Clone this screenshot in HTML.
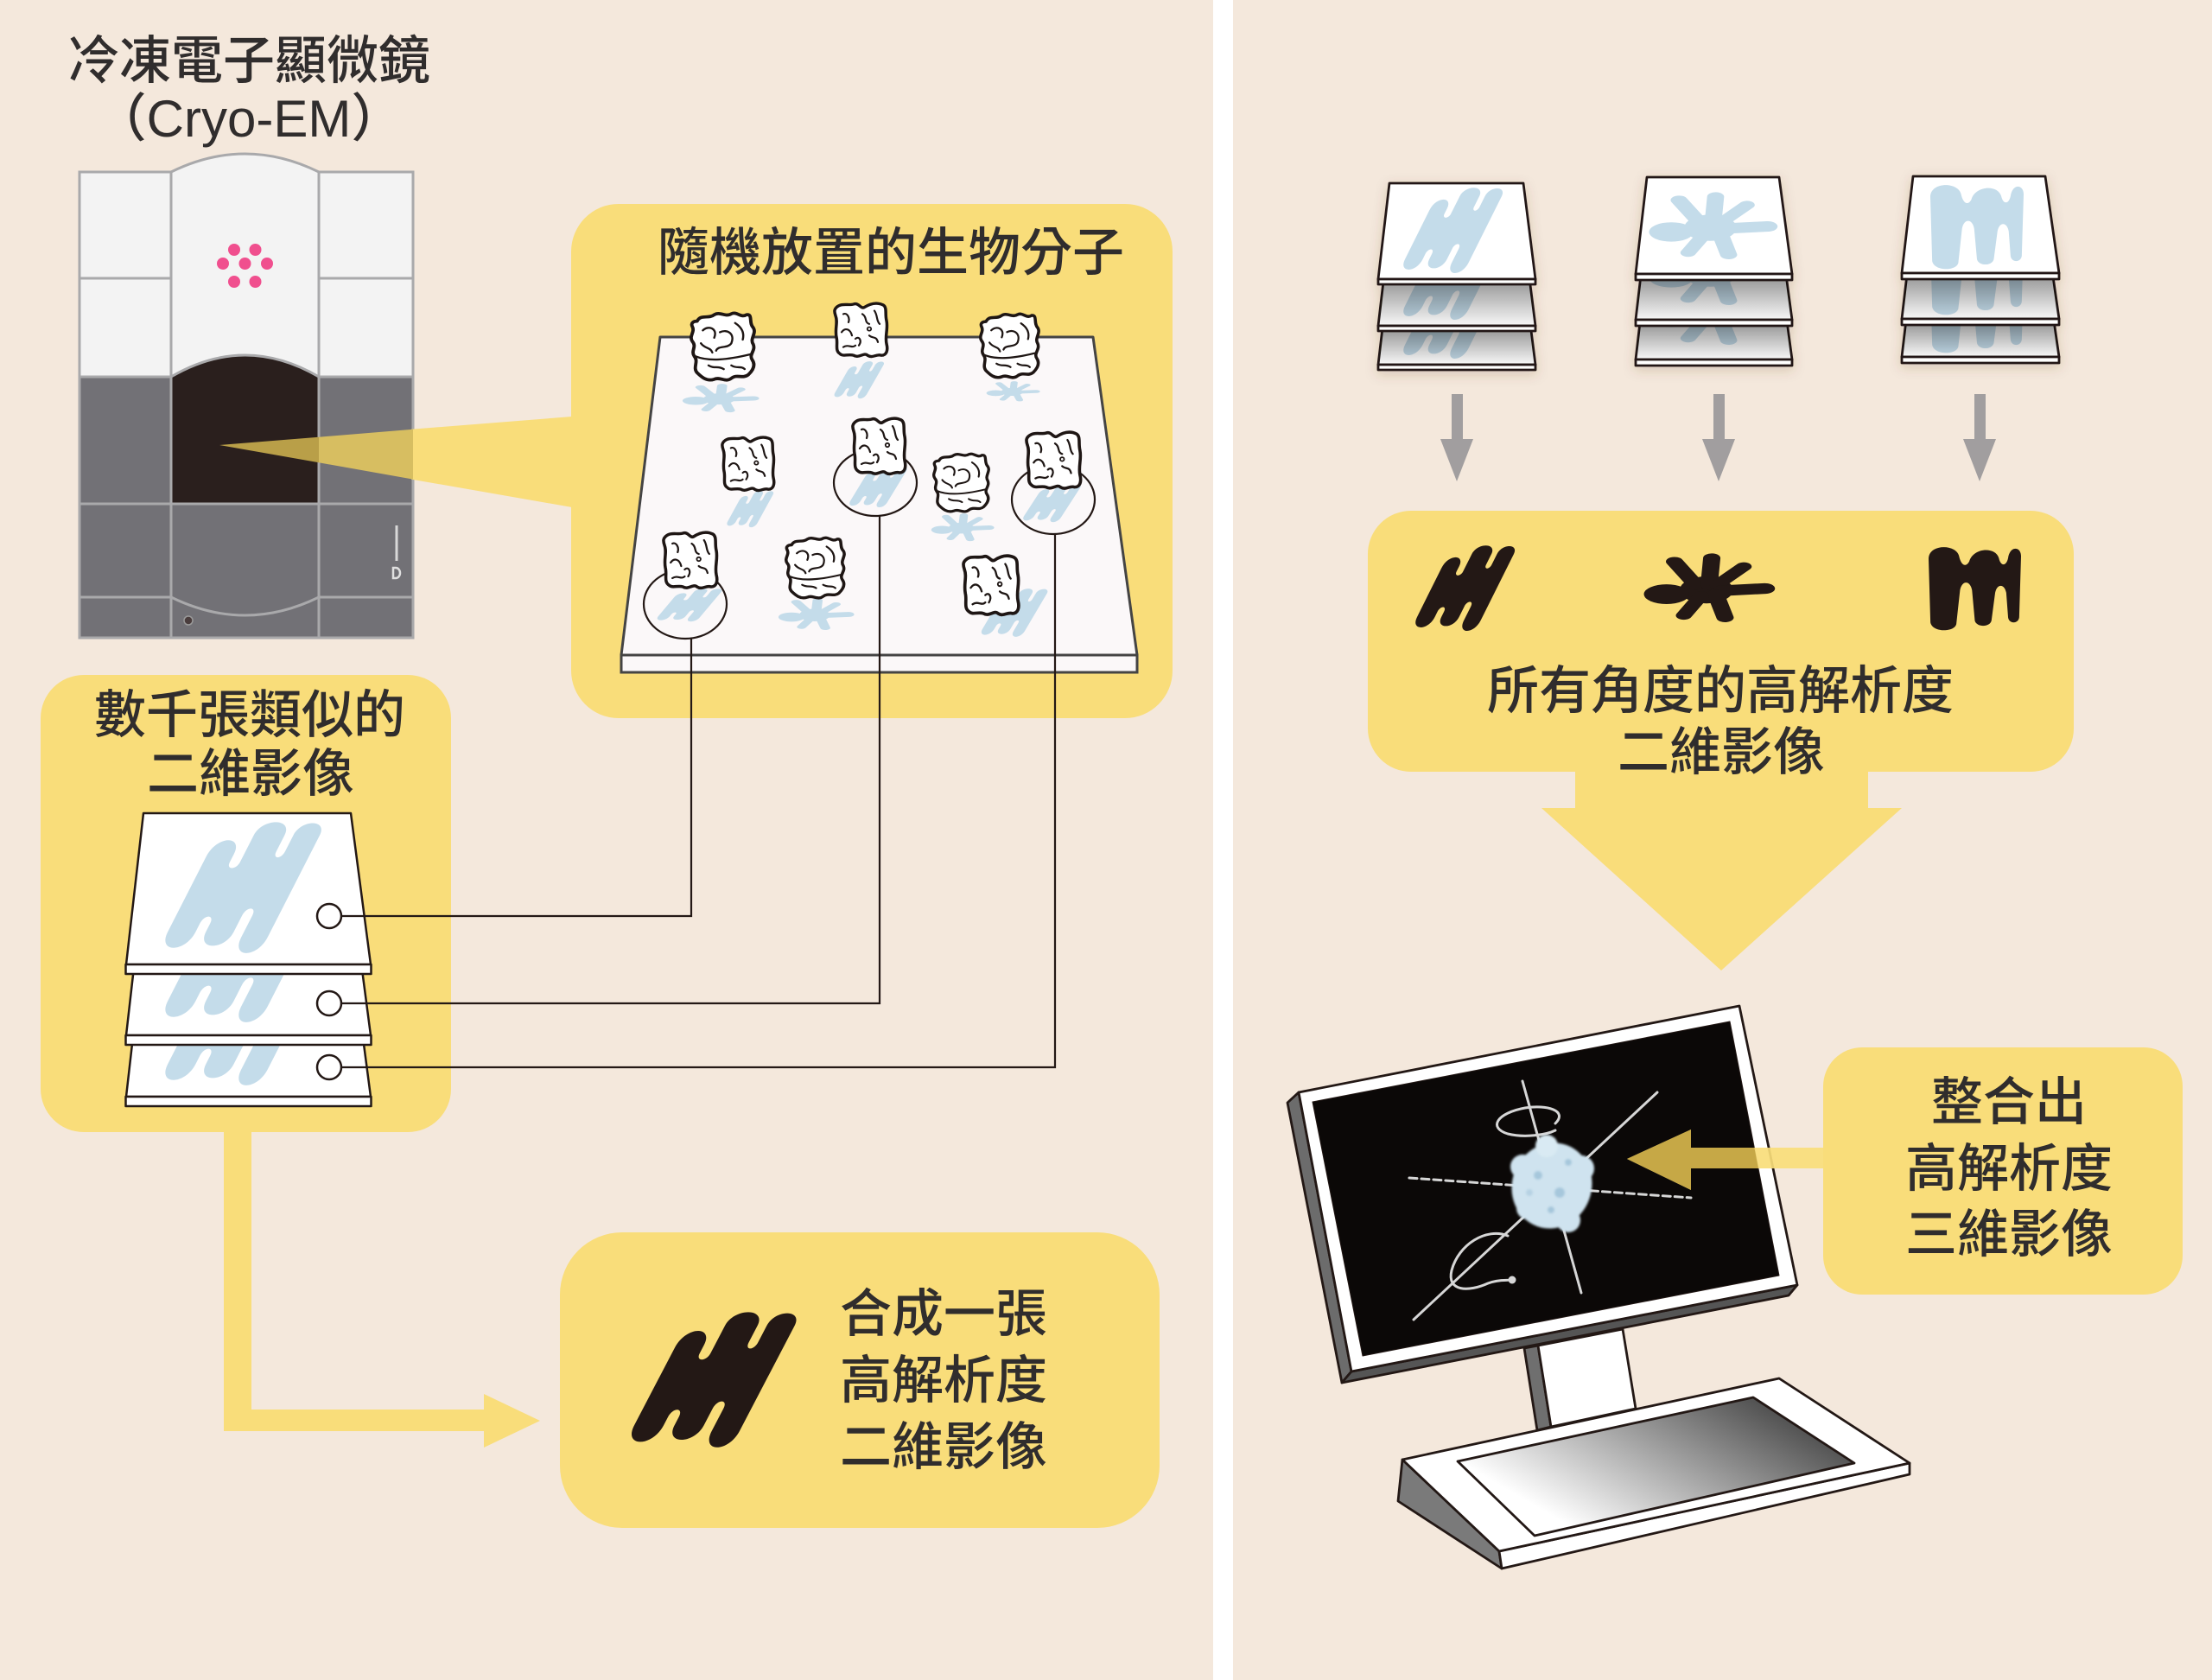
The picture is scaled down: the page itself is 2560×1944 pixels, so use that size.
<!DOCTYPE html>
<html>
<head>
<meta charset="utf-8">
<style>
html,body{margin:0;padding:0;background:#f4e8dc;}
svg{display:block;}
text{font-family:"Liberation Sans","Noto Sans CJK TC",sans-serif;fill:#302d2d;font-weight:500;}
</style>
</head>
<body>
<svg width="2560" height="1944" viewBox="0 0 2560 1944" xmlns="http://www.w3.org/2000/svg">
<defs>
  <g id="H"><path transform="matrix(0.857 0 -0.4 1 40 0)" d="M0 26 C0 10 18 10 18 24 L18 30 C18 36 25 36 25 30 L25 10 C25 -3 46 -3 46 10 L46 22 C46 28 52 28 52 22 L52 10 C52 -2 70 -2 70 10 L70 86 C70 102 52 102 52 86 L52 70 C52 63 45 63 45 70 L45 82 C45 96 26 96 26 82 L26 76 C26 69 19 69 19 76 L19 82 C19 98 0 98 0 82 Z"/></g>
  <g id="S" fill="currentColor" stroke="currentColor" stroke-linecap="round">
    <ellipse cx="48" cy="52" rx="20" ry="19" stroke="none"/>
    <ellipse cx="18" cy="58" rx="17" ry="14" stroke="none"/>
    <path d="M40 45 L24 12" stroke-width="13" fill="none"/>
    <path d="M50 45 L52 7" stroke-width="13" fill="none"/>
    <path d="M56 45 L76 19" stroke-width="12" fill="none"/>
    <path d="M60 53 L92 50" stroke-width="15" fill="none"/>
    <path d="M55 58 L62 91" stroke-width="13" fill="none"/>
    <path d="M44 60 L31 88" stroke-width="12" fill="none"/>
  </g>
  <path id="M" d="M2 90 L0 15 C0 -3 30 -3 33 12 C35 22 40 26 44 18 C48 2 72 0 76 14 C78 24 84 24 86 14 C88 -1 100 0 100 12 L98 84 C97 92 87 92 86 84 L84 55 C82 44 74 44 72 55 L68 88 C66 96 52 96 50 88 L47 52 C45 40 36 40 34 52 L30 92 C28 102 4 102 2 90 Z"/>
  <g id="molA" stroke="#1e1614" stroke-linecap="round" stroke-linejoin="round" fill="none">
    <path fill="#fff" stroke-width="3.5" d="M4 6 C10 0 18 4 24 2 C30 0 32 8 36 6 C42 2 50 -1 58 3 C63 6 60 14 62 22 C64 32 60 40 62 50 C64 58 62 64 56 64 C50 62 46 68 40 64 C36 60 30 68 24 64 C18 62 12 66 8 62 C2 58 6 50 4 42 C2 32 6 24 3 16 C1 10 2 8 4 6 Z"/>
    <path stroke-width="2.2" d="M12 14 C16 12 20 18 18 24 M34 14 C40 18 36 24 42 26 M48 10 C52 16 50 22 54 26 M10 36 C14 30 20 32 22 40 M26 44 C30 40 34 46 30 52 M42 40 C46 44 50 40 52 48 M12 54 C18 50 22 56 26 52"/>
    <circle cx="42" cy="32" r="2.2" stroke-width="1.8"/>
  </g>
  <g id="molB" stroke="#1e1614" stroke-linecap="round" stroke-linejoin="round" fill="none">
    <path fill="#fff" stroke-width="3.5" d="M8 10 C12 2 20 8 26 3 C32 -1 38 6 44 2 C50 -1 54 7 60 3 C67 2 62 12 67 17 C71 23 63 29 67 35 C70 42 62 46 66 52 C70 58 66 64 62 68 C56 73 50 67 44 72 C38 77 32 70 26 73 C18 76 12 70 8 66 C3 60 10 54 5 48 C1 42 8 38 3 32 C-1 26 6 22 3 16 C1 12 4 10 8 10 Z"/>
    <path stroke-width="2.2" d="M6 48 C20 54 40 52 64 46 M14 20 C20 14 30 18 26 28 M32 22 C40 18 48 24 44 34 C40 40 30 36 28 42 M48 12 C54 16 58 22 56 30 M12 34 C16 40 22 38 24 44 M20 58 C26 62 30 58 36 62 M44 58 C50 62 54 58 58 62"/>
  </g>
  <clipPath id="cl1"><polygon points="166,941 406,941 429,1116 146,1116"/></clipPath>
  <clipPath id="cl2"><polygon points="166,1023 406,1023 429,1198 146,1198"/></clipPath>
  <clipPath id="cl3"><polygon points="166,1094 406,1094 429,1269 146,1269"/></clipPath>
  <clipPath id="ca1"><polygon points="1608,212 1763,212 1777,323 1595,323"/></clipPath>
  <clipPath id="ca2"><polygon points="1608,266 1763,266 1777,377 1595,377"/></clipPath>
  <clipPath id="ca3"><polygon points="1608,311 1763,311 1777,422 1595,422"/></clipPath>
  <clipPath id="cb1"><polygon points="1906,205 2059,205 2074,317 1893,317"/></clipPath>
  <clipPath id="cb2"><polygon points="1906,258 2059,258 2074,370 1893,370"/></clipPath>
  <clipPath id="cb3"><polygon points="1906,304 2059,304 2074,416 1893,416"/></clipPath>
  <clipPath id="cc1"><polygon points="2214,204 2367,204 2383,316 2201,316"/></clipPath>
  <clipPath id="cc2"><polygon points="2214,257 2367,257 2383,369 2201,369"/></clipPath>
  <clipPath id="cc3"><polygon points="2214,301 2367,301 2383,413 2201,413"/></clipPath>
  <clipPath id="scr"><polygon points="1519,1275 2002,1182 2059,1476 1577,1569"/></clipPath>
  <linearGradient id="shd" x1="0" y1="0" x2="0" y2="1">
    <stop offset="0" stop-color="#000" stop-opacity="0.38"/>
    <stop offset="1" stop-color="#000" stop-opacity="0.03"/>
  </linearGradient>
  <linearGradient id="pad" x1="0" y1="0.8" x2="1" y2="0.2">
    <stop offset="0.15" stop-color="#ffffff"/>
    <stop offset="1" stop-color="#3a3a3a"/>
  </linearGradient>
  <filter id="ds" x="-20%" y="-20%" width="140%" height="140%">
    <feDropShadow dx="0" dy="4" stdDeviation="7" flood-color="#6b4a2a" flood-opacity="0.2"/>
  </filter>
  <filter id="fz" x="-20%" y="-20%" width="140%" height="140%">
    <feGaussianBlur stdDeviation="1.4"/>
  </filter>
</defs>

<!-- background -->
<rect x="0" y="0" width="2560" height="1944" fill="#f4e8dc"/>
<rect x="1404" y="0" width="23" height="1944" fill="#ffffff"/>

<!-- ===== Microscope ===== -->
<g>
  <path d="M92 199 H198 Q283.5 157 369 199 H478 V738 H92 Z" fill="#f3f3f3"/>
  <rect x="92" y="436" width="386" height="302" fill="#727176"/>
  <path d="M198 436 Q283.5 386 369 436 V583 H198 Z" fill="#2a1f1d"/>
  <g fill="none" stroke="#a9a9ab" stroke-width="3">
    <path d="M92 199 H198 Q283.5 157 369 199 H478 V738 H92 Z"/>
    <path d="M198 199 V738 M369 199 V738"/>
    <path d="M92 322 H198 M369 322 H478 M92 436 H198 M369 436 H478 M92 583 H478 M92 691 H198 M369 691 H478"/>
    <path d="M198 691 Q283.5 733 369 691"/>
    <path d="M198 436 Q283.5 386 369 436"/>
  </g>
  <g fill="#f04f8e">
    <circle cx="271" cy="289" r="7"/><circle cx="295.5" cy="289" r="7"/>
    <circle cx="258" cy="305" r="7"/><circle cx="283.5" cy="305" r="7"/><circle cx="309" cy="305" r="7"/>
    <circle cx="271" cy="326" r="7"/><circle cx="295.5" cy="326" r="7"/>
  </g>
  <path d="M459 608 V649" stroke="#d8d8d8" stroke-width="3"/>
  <path d="M455 657 h3 a5 6 0 0 1 0 12 h-3 Z" fill="none" stroke="#e0e0e0" stroke-width="2.5"/>
  <circle cx="218" cy="718" r="5" fill="#4a3d3d" stroke="#9a9a9a" stroke-width="1.5"/>
</g>

<!-- ===== Yellow box 1 + beam ===== -->
<rect x="661" y="236" width="696" height="595" rx="55" fill="#f9dd7a"/>
<polygon points="476,496.8 662,482 662,587 476,554.6" fill="#f9dd7a"/>
<polygon points="369,505.7 478,496.8 478,554.6 369,535.3" fill="#d7be61"/>
<polygon points="254,515 369,505.7 369,535.3" fill="#b99f48"/>

<!-- plate -->
<polygon points="764,390 1265,390 1316,758 719,758" fill="#fbf8f9" stroke="#444" stroke-width="3" stroke-linejoin="round"/>
<rect x="719" y="758" width="597" height="20" fill="#fbf8f9" stroke="#444" stroke-width="3"/>

<!-- shadows -->
<g fill="#c4dcea" color="#c4dcea">
  <use href="#S" transform="translate(789,444) scale(0.90,0.34)"/>
  <use href="#H" transform="translate(962,418) scale(0.63,0.44)"/>
  <use href="#S" transform="translate(1141,441) scale(0.63,0.24)"/>
  <use href="#H" transform="translate(838,568) scale(0.59,0.43)"/>
  <use href="#H" transform="translate(979,540) scale(0.73,0.48)"/>
  <use href="#S" transform="translate(1077,594) scale(0.74,0.33)"/>
  <use href="#H" transform="translate(1180,560) scale(0.73,0.45)"/>
  <use href="#H" transform="translate(756,681) scale(0.82,0.39)"/>
  <use href="#S" transform="translate(900,692) scale(0.89,0.38)"/>
  <use href="#H" transform="translate(1131,681) scale(0.84,0.57)"/>
</g>
<!-- selection ellipses -->
<g fill="none" stroke="#231815" stroke-width="2.2">
  <ellipse cx="1013" cy="558.5" rx="48" ry="38.5"/>
  <ellipse cx="1219" cy="578" rx="48" ry="40"/>
  <ellipse cx="793" cy="699" rx="48" ry="40"/>
</g>
<!-- molecules -->
<use href="#molB" transform="translate(798,361) scale(1.1,1.066)"/>
<use href="#molA" transform="translate(964,350) scale(1.0,0.956)"/>
<use href="#molB" transform="translate(1133,362) scale(1.014,1.013)"/>
<use href="#molA" transform="translate(834,505) scale(0.984,0.956)"/>
<use href="#molA" transform="translate(985,483) scale(1,1)"/>
<use href="#molB" transform="translate(1079,524) scale(0.957,0.92)"/>
<use href="#molA" transform="translate(1186,499) scale(1.03,1.01)"/>
<use href="#molA" transform="translate(766,615) scale(1.016,1)"/>
<use href="#molB" transform="translate(908,621) scale(1.014,0.96)"/>
<use href="#molA" transform="translate(1113,642) scale(1.05,1.06)"/>

<!-- ===== Left stack box ===== -->
<rect x="47" y="781" width="475" height="529" rx="50" fill="#f9dd7a"/>
<!-- connector arrow -->
<rect x="259" y="1290" width="32" height="366" fill="#f9dd7a"/>
<rect x="259" y="1631" width="306" height="25" fill="#f9dd7a"/>
<polygon points="560,1613 625,1644 560,1675" fill="#f9dd7a"/>
<!-- bottom box -->
<rect x="648" y="1426" width="694" height="342" rx="72" fill="#f9dd7a"/>
<use href="#H" transform="translate(719,1518) scale(2.09,1.60)" fill="#231815"/>

<!-- left stack sheets -->
<g stroke="#231815" stroke-width="2.5" stroke-linejoin="round">
  <polygon points="166,1094 406,1094 429,1269 146,1269" fill="#fff"/>
  <g clip-path="url(#cl3)" stroke="none"><use href="#H" transform="translate(180,1104) scale(1.98,1.55)" fill="#c4dcea"/></g>
  <rect x="145.5" y="1269" width="284" height="11" fill="#fff"/>
  <polygon points="166,1023 406,1023 429,1198 146,1198" fill="#fff"/>
  <g clip-path="url(#cl2)" stroke="none"><use href="#H" transform="translate(180,1031) scale(1.98,1.55)" fill="#c4dcea"/></g>
  <rect x="145.5" y="1198" width="284" height="11" fill="#fff"/>
  <polygon points="166,941 406,941 429,1116 146,1116" fill="#fff"/>
  <g clip-path="url(#cl1)" stroke="none"><use href="#H" transform="translate(180,951) scale(1.98,1.55)" fill="#c4dcea"/></g>
  <rect x="145.5" y="1116" width="284" height="11" fill="#fff"/>
</g>

<!-- connecting lines -->
<g fill="none" stroke="#231815" stroke-width="2.2">
  <path d="M800 738 V1060 H395"/>
  <path d="M1018 597 V1161 H395"/>
  <path d="M1221 618 V1235 H395"/>
</g>
<g fill="#fff" stroke="#231815" stroke-width="2.5">
  <circle cx="381" cy="1060" r="14"/>
  <circle cx="381" cy="1161" r="14"/>
  <circle cx="381" cy="1235" r="14"/>
</g>

<!-- left texts -->
<text x="288" y="91" text-anchor="middle" font-size="60">冷凍電子顯微鏡</text>
<text x="288" y="158" text-anchor="middle" font-size="60">（Cryo-EM）</text>
<text x="1031" y="313" text-anchor="middle" font-size="60">隨機放置的生物分子</text>
<text x="289" y="848" text-anchor="middle" font-size="60">數千張類似的</text>
<text x="290" y="916" text-anchor="middle" font-size="60">二維影像</text>
<text x="972" y="1541" font-size="60">合成一張</text>
<text x="972" y="1618" font-size="60">高解析度</text>
<text x="972" y="1695" font-size="60">二維影像</text>

<!-- ===== Right side stacks ===== -->
<g filter="url(#ds)" stroke="#231815" stroke-width="2.8" stroke-linejoin="round">
  <!-- stack A -->
  <polygon points="1608,311 1763,311 1777,422 1595,422" fill="#fff"/>
  <g clip-path="url(#ca3)" stroke="none">
    <use href="#H" transform="translate(1617,316) scale(1.26,1.01)" fill="#c4dcea"/>
    <rect x="1590" y="384" width="195" height="38" fill="url(#shd)"/>
  </g>
  <rect x="1595" y="422" width="182" height="6" fill="#fff"/>
  <polygon points="1608,266 1763,266 1777,377 1595,377" fill="#fff"/>
  <g clip-path="url(#ca2)" stroke="none">
    <use href="#H" transform="translate(1617,271) scale(1.26,1.01)" fill="#c4dcea"/>
    <rect x="1590" y="329" width="195" height="48" fill="url(#shd)"/>
  </g>
  <rect x="1595" y="377" width="182" height="6" fill="#fff"/>
  <polygon points="1608,212 1763,212 1777,323 1595,323" fill="#fff"/>
  <g clip-path="url(#ca1)" stroke="none">
    <use href="#H" transform="translate(1617,217) scale(1.26,1.01)" fill="#c4dcea"/>
  </g>
  <rect x="1595" y="323" width="182" height="6" fill="#fff"/>

  <!-- stack B -->
  <polygon points="1906,304 2059,304 2074,416 1893,416" fill="#fff"/>
  <g clip-path="url(#cb3)" stroke="none">
    <use href="#S" transform="translate(1907,321) scale(1.51,0.80)" color="#c4dcea"/>
    <rect x="1888" y="378" width="192" height="38" fill="url(#shd)"/>
  </g>
  <rect x="1893" y="416" width="181" height="7" fill="#fff"/>
  <polygon points="1906,258 2059,258 2074,370 1893,370" fill="#fff"/>
  <g clip-path="url(#cb2)" stroke="none">
    <use href="#S" transform="translate(1907,275) scale(1.51,0.80)" color="#c4dcea"/>
    <rect x="1888" y="325" width="192" height="45" fill="url(#shd)"/>
  </g>
  <rect x="1893" y="370" width="181" height="7" fill="#fff"/>
  <polygon points="1906,205 2059,205 2074,317 1893,317" fill="#fff"/>
  <g clip-path="url(#cb1)" stroke="none">
    <use href="#S" transform="translate(1907,222) scale(1.51,0.80)" color="#c4dcea"/>
  </g>
  <rect x="1893" y="317" width="181" height="7" fill="#fff"/>

  <!-- stack C -->
  <polygon points="2214,301 2367,301 2383,413 2201,413" fill="#fff"/>
  <g clip-path="url(#cc3)" stroke="none">
    <use href="#M" transform="translate(2234,310) scale(1.08,0.99)" fill="#c4dcea"/>
    <rect x="2196" y="377" width="192" height="36" fill="url(#shd)"/>
  </g>
  <rect x="2201" y="413" width="182" height="7" fill="#fff"/>
  <polygon points="2214,257 2367,257 2383,369 2201,369" fill="#fff"/>
  <g clip-path="url(#cc2)" stroke="none">
    <use href="#M" transform="translate(2234,266) scale(1.08,0.99)" fill="#c4dcea"/>
    <rect x="2196" y="323" width="192" height="46" fill="url(#shd)"/>
  </g>
  <rect x="2201" y="369" width="182" height="7" fill="#fff"/>
  <polygon points="2214,204 2367,204 2383,316 2201,316" fill="#fff"/>
  <g clip-path="url(#cc1)" stroke="none">
    <use href="#M" transform="translate(2234,213) scale(1.08,0.99)" fill="#c4dcea"/>
  </g>
  <rect x="2201" y="316" width="182" height="7" fill="#fff"/>
</g>

<!-- gray arrows -->
<g fill="#a19e9f">
  <rect x="1680" y="456" width="13" height="54"/>
  <polygon points="1667,508 1705,508 1686,557"/>
  <rect x="1983" y="456" width="13" height="54"/>
  <polygon points="1970,508 2008,508 1989,557"/>
  <rect x="2285" y="456" width="13" height="54"/>
  <polygon points="2272,508 2310,508 2291,557"/>
</g>

<!-- right yellow box with arrow -->
<rect x="1583" y="591" width="817" height="302" rx="50" fill="#f9dd7a"/>
<rect x="1823" y="880" width="339" height="56" fill="#f9dd7a"/>
<polygon points="1784,935 2201,935 1992,1123" fill="#f9dd7a"/>
<use href="#H" transform="translate(1631,631) scale(1.26,1.01)" fill="#231815"/>
<use href="#S" transform="translate(1901,640) scale(1.54,0.82)" color="#231815"/>
<use href="#M" transform="translate(2232,632) scale(1.07,0.98)" fill="#231815"/>
<text x="1991" y="820" text-anchor="middle" font-size="60">所有角度的高解析度</text>
<text x="1992" y="891" text-anchor="middle" font-size="60">二維影像</text>

<!-- ===== Monitor ===== -->
<g stroke="#231815" stroke-width="2.8" stroke-linejoin="round">
  <!-- neck -->
  <polygon points="1764,1560 1780,1557 1795,1651 1779,1655" fill="#6f6f6f"/>
  <polygon points="1780,1557 1878,1538 1893,1630 1795,1651" fill="#fff"/>
  <!-- keyboard -->
  <polygon points="1623,1689 1618,1737 1738,1815 1735,1795" fill="#7a7a7a"/>
  <polygon points="1735,1795 2210,1693 2210,1706 1738,1815" fill="#fff"/>
  <polygon points="1623,1689 2059,1595 2210,1693 1735,1795" fill="#fff"/>
  <polygon points="1687,1691 2029,1617 2146,1693 1776,1777" fill="url(#pad)"/>
  <!-- monitor -->
  <polygon points="1490,1276 1503,1264 1564,1587 1553,1600" fill="#6c6c6c"/>
  <polygon points="1553,1600 1564,1587 2080,1487 2070,1499" fill="#555"/>
  <polygon points="1503,1264 2013,1164 2080,1487 1564,1587" fill="#fff"/>
  <polygon points="1519,1275 2002,1182 2059,1476 1577,1569" fill="#0b0807" stroke-width="1"/>
</g>
<!-- screen content -->
<g clip-path="url(#scr)" fill="none" stroke="#d6d6d6" stroke-width="3" stroke-linecap="round">
  <path d="M1636 1527 L1918 1264"/>
  <path d="M1762 1251 L1830 1496"/>
  <path d="M1631 1363 L1957 1386" stroke-dasharray="9 5"/>
  <path d="M1800 1300 C1815 1285 1790 1278 1765 1282 C1732 1288 1722 1305 1745 1312 C1765 1317 1790 1313 1800 1308"/>
  <path d="M1745 1430 C1720 1420 1688 1440 1680 1470 C1674 1495 1700 1495 1722 1485 C1735 1480 1745 1482 1748 1481"/>
  <circle cx="1750" cy="1481" r="3" fill="#d6d6d6"/>
  <g filter="url(#fz)" stroke="none">
    <ellipse cx="1796" cy="1372" rx="46" ry="50" transform="rotate(20 1796 1372)" fill="#cfe3ef"/>
    <circle cx="1762" cy="1350" r="14" fill="#cfe3ef"/>
    <circle cx="1830" cy="1352" r="15" fill="#cfe3ef"/>
    <circle cx="1790" cy="1326" r="13" fill="#d9eaf3"/>
    <circle cx="1815" cy="1412" r="14" fill="#cfe3ef"/>
    <circle cx="1768" cy="1398" r="13" fill="#cfe3ef"/>
    <circle cx="1780" cy="1360" r="5" fill="#a6c7dc"/>
    <circle cx="1805" cy="1380" r="6" fill="#a6c7dc"/>
    <circle cx="1795" cy="1400" r="4" fill="#a6c7dc"/>
    <circle cx="1815" cy="1345" r="4" fill="#a6c7dc"/>
    <circle cx="1770" cy="1380" r="4" fill="#b6d2e3"/>
  </g>
</g>

<!-- right arrow -->
<polygon points="2112,1328 1957,1328 1957,1307 1883,1341 1957,1377 1957,1352 2112,1352" fill="#f9dd7a" opacity="0.92"/>
<g clip-path="url(#scr)">
  <polygon points="2112,1328 1957,1328 1957,1307 1883,1341 1957,1377 1957,1352 2112,1352" fill="#c6a846"/>
</g>
<!-- right label box -->
<rect x="2110" y="1212" width="416" height="286" rx="45" fill="#f9dd7a"/>
<text x="2325" y="1296" text-anchor="middle" font-size="60">整合出</text>
<text x="2325" y="1373" text-anchor="middle" font-size="60">高解析度</text>
<text x="2325" y="1449" text-anchor="middle" font-size="60">三維影像</text>
</svg>
</body>
</html>
